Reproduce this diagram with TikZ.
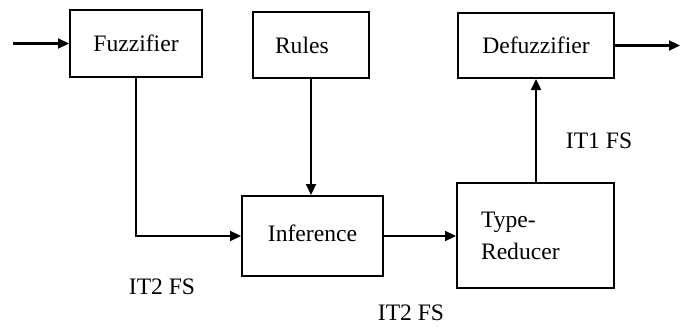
\documentclass[tikz,border=0pt]{standalone}
\usepackage{fontspec}
\setmainfont{Liberation Serif}
\usetikzlibrary{arrows.meta}
\begin{document}
\begin{tikzpicture}[x=0.5pt,y=-0.5pt,
  font=\fontsize{11.8}{16}\selectfont,
  blockbox/.style={draw=black, line width=1pt, rectangle, inner sep=0pt},
  conn/.style={line width=1.1pt, -{Triangle[length=5.5pt,width=5pt]}},
  lbl/.style={inner sep=0pt}]
\useasboundingbox (0,0) rectangle (688,326);
% boxes
\node[blockbox, minimum width=66pt, minimum height=33.5pt] (fuzz) at (136,43.5) {Fuzzifier};
\node[blockbox, minimum width=58pt, minimum height=33pt, text width=36pt, inner xsep=11pt, align=left] (rules) at (311,45) {Rules};
\node[blockbox, minimum width=78pt, minimum height=32.5pt] (defuzz) at (536,45.5) {Defuzzifier};
\node[blockbox, minimum width=70.5pt, minimum height=40pt] (inf) at (312.5,236) {\raisebox{2.5pt}{Inference}};
\node[blockbox, minimum width=78.5pt, minimum height=52.5pt, text width=54.5pt, inner xsep=12pt, align=left] (tr) at (535.5,235.5) {Type-\\Reducer};
% free ends
\coordinate (in) at (13,43.5);
\coordinate (out) at (680,45.5);
\coordinate (bend) at (136,236);
% connectors
\draw[conn] (in) -- (fuzz.west);
\draw[conn] (fuzz.south) -- (bend) -- (inf.west);
\draw[conn] (rules.south) -- (rules.south |- inf.north);
\draw[conn] (inf.east) -- (tr.west |- inf.east);
\draw[conn] (tr.north -| defuzz.south) -- (defuzz.south);
\draw[conn] (defuzz.east) -- (out);
% labels
\node[lbl] (l1) at (162,287) {IT2 FS};
\node[lbl] (l2) at (411,313) {IT2 FS};
\node[lbl] (l3) at (599,141) {IT1 FS};
\end{tikzpicture}
\end{document}
